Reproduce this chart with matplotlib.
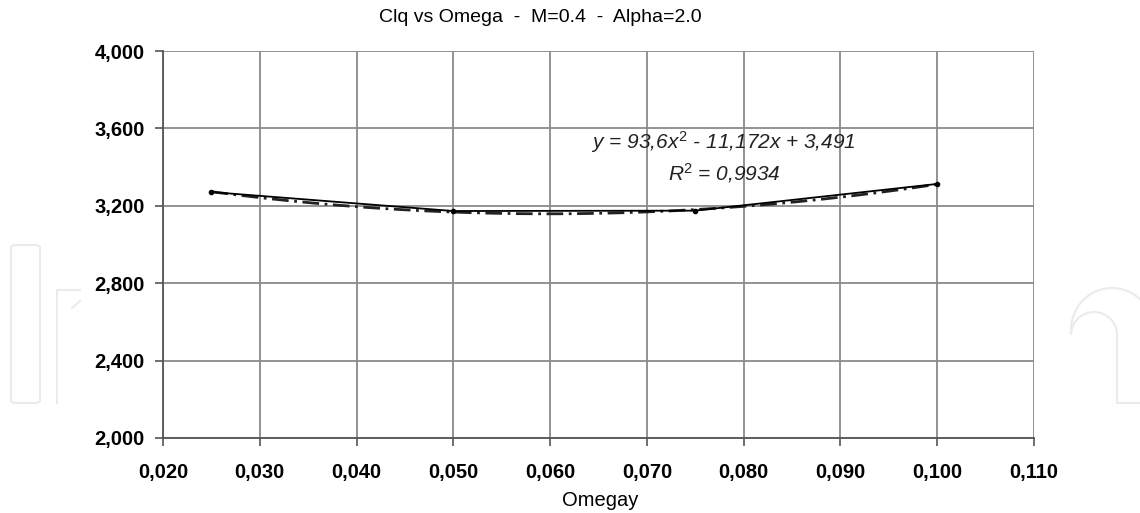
import numpy as np
import matplotlib
matplotlib.use("Agg")
import matplotlib.pyplot as plt
from matplotlib.ticker import FuncFormatter
from matplotlib.patches import FancyBboxPatch, Arc
from matplotlib.lines import Line2D

omega = [0.025, 0.050, 0.075, 0.100]
clq = [3.271, 3.173, 3.175, 3.313]
x_ticks = [0.020, 0.030, 0.040, 0.050, 0.060, 0.070, 0.080, 0.090, 0.100, 0.110]
y_ticks = [2.0, 2.4, 2.8, 3.2, 3.6, 4.0]

plt.rcParams['font.family'] = ['Liberation Sans', 'DejaVu Sans']
plt.rcParams['mathtext.fontset'] = 'custom'
plt.rcParams['mathtext.rm'] = 'Liberation Sans'
plt.rcParams['mathtext.it'] = 'Liberation Sans:italic'

W, H = 1140, 513
fig = plt.figure(figsize=(11.4, 5.13), dpi=100)


def fx_(px):
    return px / W


def fy_(py):
    return 1 - py / H


# faint background watermark
wm = '#ebebeb'
fig.patches.append(FancyBboxPatch((fx_(11), fy_(403)), 29 / W, 158 / H,
                                  boxstyle="round,pad=0,rounding_size=0.005",
                                  transform=fig.transFigure, fill=False, ec=wm, lw=1.5))
fig.add_artist(Line2D([fx_(57), fx_(57), fx_(80)], [fy_(403), fy_(290), fy_(290)],
                      transform=fig.transFigure, color=wm, lw=1.5))
fig.add_artist(Line2D([fx_(72), fx_(80)], [fy_(308), fy_(301)],
                      transform=fig.transFigure, color=wm, lw=1.5))
fig.add_artist(Arc((fx_(1112), fy_(330)), 82 / W, 84 / H, theta1=0, theta2=180,
                   transform=fig.transFigure, color=wm, lw=1.5))
fig.add_artist(Arc((fx_(1094), fy_(335)), 46 / W, 46 / H, theta1=0, theta2=180,
                   transform=fig.transFigure, color=wm, lw=1.5))
fig.add_artist(Line2D([fx_(1117), fx_(1117), fx_(1140)], [fy_(335), fy_(403), fy_(403)],
                      transform=fig.transFigure, color=wm, lw=1.5))

ax = fig.add_axes([fx_(163), fy_(438), (1034 - 163) / W, (438 - 51) / H])

fx = np.linspace(min(omega), max(omega), 200)
coef = np.polyfit(omega, clq, 2)
ax.plot(fx, np.polyval(coef, fx), color='#222222', lw=2.0, ls=(0, (6, 2, 1, 2)), zorder=3)
ax.plot(omega, clq, color='black', lw=1.3, marker='o', ms=3, zorder=4)

ax.set_xlim(0.020, 0.110)
ax.set_ylim(2.0, 4.0)
ax.set_xticks(x_ticks)
ax.set_yticks(y_ticks)
fmt = FuncFormatter(lambda v, p: f"{v:.3f}".replace('.', ','))
ax.xaxis.set_major_formatter(fmt)
ax.yaxis.set_major_formatter(fmt)
ax.grid(True, color='#8a8a8a', lw=1.3)
ax.set_axisbelow(True)
for s in ['top', 'right']:
    ax.spines[s].set_visible(False)
for s in ['left', 'bottom']:
    ax.spines[s].set_color('#555555')
    ax.spines[s].set_linewidth(1.3)
ax.tick_params(direction='out', length=6, width=1.2, color='#555555',
               labelsize=14.5, pad=7)
ax.tick_params(axis='x', pad=12)
for lab in ax.get_xticklabels() + ax.get_yticklabels():
    lab.set_fontweight('bold')

fig.text(fx_(600), fy_(500), 'Omegay', ha='center', va='center', fontsize=14.5)

fig.text(fx_(540), fy_(18), 'Clq vs Omega  -  M=0.4  -  Alpha=2.0',
         ha='center', va='center', fontsize=14)

fig.text(fx_(723), fy_(142), r'$y$ = 93,6$x^2$ - 11,172$x$ + 3,491',
         ha='center', va='center', fontsize=15, style='italic', color='#222222')
fig.text(fx_(724), fy_(173), r'R$^2$ = 0,9934', ha='center', va='center',
         fontsize=15, style='italic', color='#222222')

fig.savefig('out.png', dpi=100)
